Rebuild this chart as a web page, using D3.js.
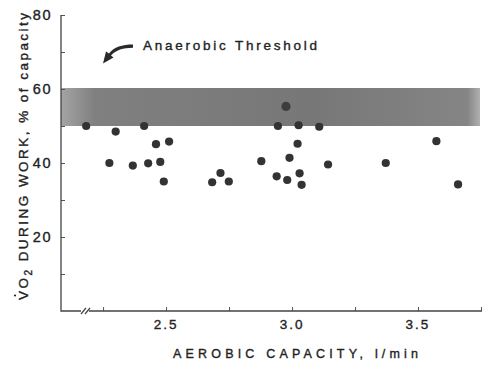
<!DOCTYPE html>
<html>
<head>
<meta charset="utf-8">
<script src="https://cdn.jsdelivr.net/npm/d3@7"></script>
<style>
  body { margin: 0; background: #fff; }
  text { font-family: "Liberation Sans", Arial, sans-serif; fill: #222; stroke: #222; stroke-width: 0.35px; }
</style>
</head>
<body>
<svg width="483" height="366"></svg>
<script>
// aerobic capacity (l/min) and VO2 during work (% of capacity)
var capacity = [2.183, 2.275, 2.30, 2.368, 2.413, 2.429, 2.46, 2.477, 2.491, 2.512,
  2.683, 2.716, 2.749, 2.878, 2.939, 2.944, 2.976, 2.981, 2.99, 3.022,
  3.026, 3.03, 3.038, 3.108, 3.143, 3.372, 3.573, 3.659];
var vo2 = [50, 40, 48.5, 39.3, 50, 39.9, 45.1, 40.3, 35, 45.8,
  34.8, 37.3, 35, 40.5, 36.4, 50, 55.3, 35.4, 41.4, 45.2,
  50.2, 37.2, 34.1, 49.8, 39.6, 40, 45.9, 34.2];
var band = [50, 60];
var xTicks = [2.25, 2.5, 2.75, 3.0, 3.25, 3.5, 3.75];
var xLabels = [2.5, 3.0, 3.5];
var yTicks = [10, 20, 30, 40, 50, 60, 70, 80];
var yLabels = [20, 40, 60, 80];

var svg = d3.select("svg");

var x = d3.scaleLinear().domain([2.083, 3.754]).range([61, 482]);
var y = d3.scaleLinear().domain([0, 80]).range([311, 15]);

// shaded band
var defs = svg.append("defs");
var grad = defs.append("linearGradient").attr("id", "bandGrad");
grad.append("stop").attr("offset", "0%").attr("stop-color", "#a4a4a4");
grad.append("stop").attr("offset", "8%").attr("stop-color", "#808080");
grad.append("stop").attr("offset", "60%").attr("stop-color", "#777");
grad.append("stop").attr("offset", "97%").attr("stop-color", "#858585");
grad.append("stop").attr("offset", "100%").attr("stop-color", "#b0b0b0");

svg.append("rect")
  .attr("x", x.range()[0])
  .attr("y", y(band[1]) - 1)
  .attr("width", 480 - x.range()[0])
  .attr("height", y(band[0]) - y(band[1]) + 1)
  .attr("fill", "url(#bandGrad)");

// axes
var xAxis = d3.axisBottom(x).tickValues(xTicks).tickSize(-4).tickFormat("");
var yAxis = d3.axisLeft(y).tickValues(yTicks).tickSize(-4).tickFormat("");

var gX = svg.append("g").attr("transform", "translate(0," + y(0) + ")").call(xAxis);
var gY = svg.append("g").attr("transform", "translate(" + x.range()[0] + ",0)").call(yAxis);
svg.selectAll(".domain").remove();
svg.selectAll(".tick line").attr("stroke", "#555").attr("stroke-width", 1);

svg.append("path")
  .attr("d", "M" + x.range()[0] + "," + y(80) + "V" + y(0) + "H" + x.range()[1])
  .attr("fill", "none").attr("stroke", "#444").attr("stroke-width", 1.3);

// axis break
svg.append("rect").attr("x", 81).attr("y", y(0) - 2).attr("width", 8).attr("height", 4).attr("fill", "#fff");
[81, 85].forEach(function (bx) {
  svg.append("line")
    .attr("x1", bx).attr("y1", y(0) + 3).attr("x2", bx + 5).attr("y2", y(0) - 3)
    .attr("stroke", "#444").attr("stroke-width", 1.2);
});

// tick labels
svg.selectAll("text.xl").data(xLabels).enter().append("text")
  .attr("class", "xl")
  .attr("x", function (d) { return x(d); })
  .attr("y", 329)
  .attr("text-anchor", "middle")
  .attr("font-size", 13.5)
  .attr("letter-spacing", 2)
  .text(function (d) { return d.toFixed(1); });

svg.selectAll("text.yl").data(yLabels).enter().append("text")
  .attr("class", "yl")
  .attr("x", 52)
  .attr("y", function (d) { return y(d) + 5; })
  .attr("text-anchor", "end")
  .attr("font-size", 14.5)
  .attr("letter-spacing", 1.5)
  .text(function (d) { return d; });

// axis titles
svg.append("text")
  .attr("x", 173).attr("y", 358)
  .attr("font-size", 12.5)
  .attr("textLength", 245).attr("lengthAdjust", "spacing")
  .text("AEROBIC CAPACITY, l/min");

var gt = svg.append("g").attr("transform", "translate(28,300) rotate(-90)");
var yt = gt.append("text")
  .attr("font-size", 13.5)
  .attr("textLength", 287).attr("lengthAdjust", "spacing");
yt.append("tspan").text("VO");
yt.append("tspan").attr("font-size", 10).attr("dy", 4).text("2");
yt.append("tspan").attr("dy", -4).text(" DURING WORK, % of capacity");
gt.append("circle").attr("cx", 4.5).attr("cy", -13).attr("r", 1.1).attr("fill", "#222");

// annotation
svg.append("text")
  .attr("x", 143).attr("y", 49.5)
  .attr("font-size", 13.5)
  .attr("textLength", 174).attr("lengthAdjust", "spacing")
  .text("Anaerobic Threshold");

svg.append("path")
  .attr("d", "M133,44.5 C122,44.5 114,47 109,53.5 L106,51.5 L103,63.5 L113.5,57.5 L111,55.5 C116,50 123,48 133,47.8 Z")
  .attr("fill", "#2a2a2a");

// points
svg.selectAll("circle.pt").data(capacity).enter().append("circle")
  .attr("class", "pt")
  .attr("cx", function (d) { return x(d); })
  .attr("cy", function (d, i) { return y(vo2[i]); })
  .attr("r", function (d, i) { return vo2[i] > 52 ? 4.6 : 4.1; })
  .attr("fill", function (d, i) { return vo2[i] > 52 ? "#3d3d3d" : "#333"; });
</script>
</body>
</html>
